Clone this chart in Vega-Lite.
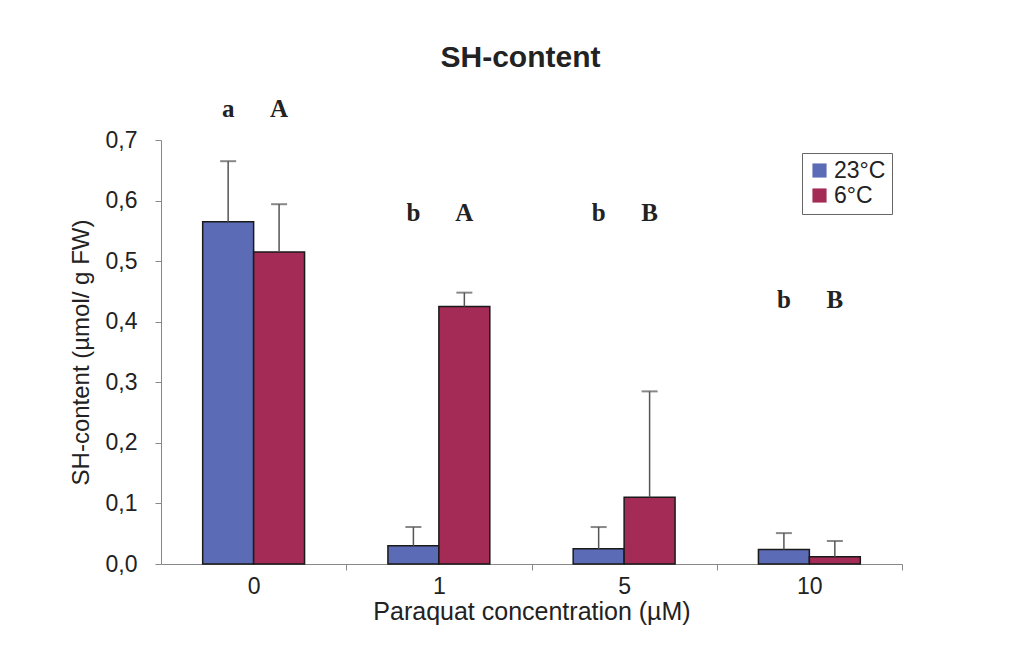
{
  "$schema": "https://vega.github.io/schema/vega-lite/v6.json",
  "width": 741,
  "height": 424,
  "padding": {"left": 69, "top": 42, "right": 100, "bottom": 20},
  "background": "white",
  "title": {"text": "SH-content", "font": "Liberation Sans", "fontSize": 30, "fontWeight": "bold", "color": "#222", "offset": 24, "anchor": "middle", "dx": -11},
  "datasets": {
    "bars": [
      {"conc": "0", "temp": "23°C", "value": 0.565, "upper": 0.665},
      {"conc": "0", "temp": "6°C", "value": 0.515, "upper": 0.594},
      {"conc": "1", "temp": "23°C", "value": 0.030, "upper": 0.061},
      {"conc": "1", "temp": "6°C", "value": 0.425, "upper": 0.448},
      {"conc": "5", "temp": "23°C", "value": 0.025, "upper": 0.061},
      {"conc": "5", "temp": "6°C", "value": 0.110, "upper": 0.285},
      {"conc": "10", "temp": "23°C", "value": 0.024, "upper": 0.051},
      {"conc": "10", "temp": "6°C", "value": 0.012, "upper": 0.038}
    ],
    "letters": [
      {"conc": "0", "temp": "23°C", "letter": "a", "pos": 0.752},
      {"conc": "0", "temp": "6°C", "letter": "A", "pos": 0.752},
      {"conc": "1", "temp": "23°C", "letter": "b", "pos": 0.58},
      {"conc": "1", "temp": "6°C", "letter": "A", "pos": 0.58},
      {"conc": "5", "temp": "23°C", "letter": "b", "pos": 0.58},
      {"conc": "5", "temp": "6°C", "letter": "B", "pos": 0.58},
      {"conc": "10", "temp": "23°C", "letter": "b", "pos": 0.436},
      {"conc": "10", "temp": "6°C", "letter": "B", "pos": 0.436}
    ]
  },
  "encoding": {
    "x": {
      "field": "conc", "type": "nominal", "sort": ["0", "1", "5", "10"],
      "scale": {"paddingInner": 0.45, "paddingOuter": 0.225},
      "axis": {
        "title": "Paraquat concentration (µM)", "labelAngle": 0,
        "labelFont": "Liberation Sans", "labelFontSize": 23, "labelColor": "#222",
        "titleFont": "Liberation Sans", "titleFontSize": 25, "titleFontWeight": "normal", "titleColor": "#222",
        "domainColor": "#888", "tickColor": "#888", "tickSize": 6,
        "tickOffset": 92.625, "labelOffset": -92.625, "labelPadding": 5, "titlePadding": 1
      }
    },
    "xOffset": {"field": "temp", "type": "nominal", "sort": ["23°C", "6°C"], "scale": {"paddingInner": 0, "paddingOuter": 0}}
  },
  "layer": [
    {
      "data": {"name": "bars"},
      "mark": {"type": "bar", "stroke": "#1a1a1a", "strokeWidth": 1.5},
      "encoding": {
        "y": {
          "field": "value", "type": "quantitative",
          "scale": {"domain": [0, 0.7], "nice": false},
          "axis": {
            "title": "SH-content (µmol/ g FW)", "values": [0, 0.1, 0.2, 0.3, 0.4, 0.5, 0.6, 0.7],
            "labelExpr": "replace(format(datum.value, '.1f'), '.', ',')",
            "grid": false, "labelFont": "Liberation Sans", "labelFontSize": 23, "labelColor": "#222",
            "titleFont": "Liberation Sans", "titleFontSize": 24, "titleFontWeight": "normal", "titleColor": "#222",
            "domainColor": "#888", "tickColor": "#888", "tickSize": 6, "labelPadding": 18, "titlePadding": 12
          }
        },
        "fill": {
          "field": "temp", "type": "nominal", "sort": ["23°C", "6°C"],
          "scale": {"domain": ["23°C", "6°C"], "range": ["#5b6bb5", "#a32b55"]},
          "legend": {
            "title": null, "orient": "none", "legendX": 641, "legendY": 13,
            "labelFont": "Liberation Sans", "labelFontSize": 23, "labelColor": "#222",
            "symbolType": "square", "symbolSize": 200, "symbolStrokeWidth": 0,
            "strokeColor": "#666", "fillColor": "white", "padding": 6, "rowPadding": 1,
            "labelOffset": 3, "labelLimit": 200,
            "encode": {"symbols": {"update": {"fill": {"value": "#333"}, "stroke": {"value": "#333"}}}}
          }
        }
      }
    },
    {
      "data": {"name": "bars"},
      "mark": {"type": "rule", "color": "#555", "strokeWidth": 1.5},
      "encoding": {
        "y": {"field": "value", "type": "quantitative"},
        "y2": {"field": "upper"}
      }
    },
    {
      "data": {"name": "bars"},
      "mark": {"type": "tick", "color": "#555", "size": 16, "thickness": 2, "orient": "horizontal"},
      "encoding": {
        "y": {"field": "upper", "type": "quantitative"}
      }
    },
    {
      "data": {"name": "letters"},
      "mark": {"type": "text", "font": "Liberation Serif", "fontSize": 25, "fontWeight": "bold", "color": "#222", "baseline": "middle"},
      "encoding": {
        "y": {"field": "pos", "type": "quantitative"},
        "text": {"field": "letter"}
      }
    }
  ],
  "config": {"view": {"stroke": null}}
}
